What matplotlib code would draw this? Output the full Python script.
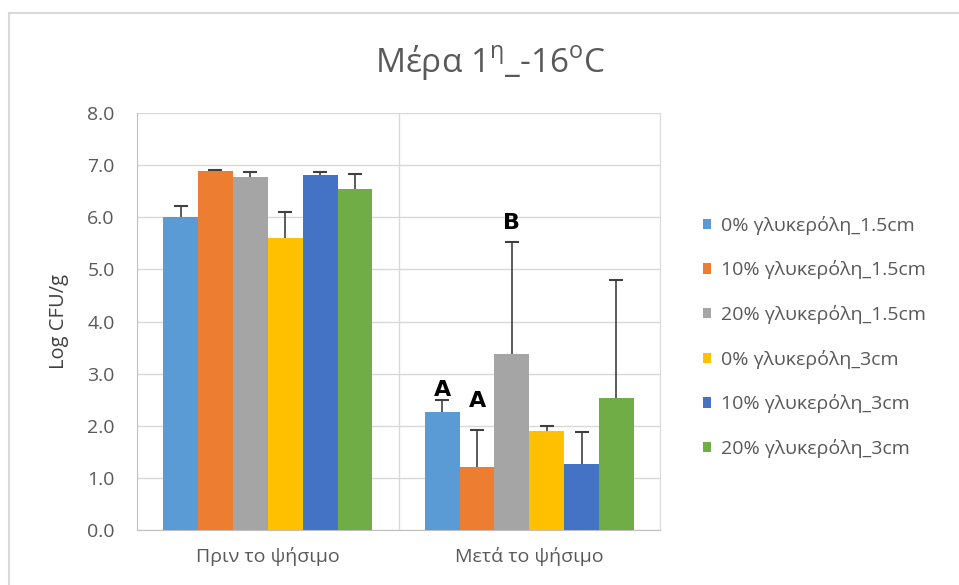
import numpy as np
import matplotlib.pyplot as plt
from matplotlib.lines import Line2D

plt.rcParams['font.family'] = ['Open Sans', 'DejaVu Sans']
plt.rcParams['mathtext.fontset'] = 'custom'
plt.rcParams['mathtext.rm'] = 'Open Sans'

groups = ['Πριν το ψήσιμο', 'Μετά το ψήσιμο']
series = ['0% γλυκερόλη_1.5cm', '10% γλυκερόλη_1.5cm', '20% γλυκερόλη_1.5cm',
          '0% γλυκερόλη_3cm', '10% γλυκερόλη_3cm', '20% γλυκερόλη_3cm']
colors = ['#5B9BD5', '#ED7D31', '#A5A5A5', '#FFC000', '#4472C4', '#70AD47']

before = [6.01, 6.88, 6.77, 5.61, 6.81, 6.55]
after = [2.27, 1.20, 3.38, 1.89, 1.27, 2.54]
err_before = [0.21, 0.02, 0.10, 0.49, 0.06, 0.28]
err_after = [0.22, 0.72, 2.14, 0.10, 0.61, 2.25]
# significance letters on the "after" group: series index -> (letter, y)
letters = {0: ('A', 2.58), 1: ('A', 2.36), 2: ('B', 5.78)}

fig = plt.figure(figsize=(9.59, 5.85), dpi=100)
# outer chart border (only top/left visible in the screenshot)
fig.add_artist(Line2D([9 / 959, 9 / 959], [0, 1 - 13 / 585], color='#D9D9D9', lw=1.5))
fig.add_artist(Line2D([9 / 959, 1], [1 - 13 / 585, 1 - 13 / 585], color='#D9D9D9', lw=1.5))

ax = fig.add_axes([0.1429, 0.094, 0.5454, 0.7128])

x = np.arange(len(groups))
w = 0.8 / 6
for i in range(6):
    vals = np.array([before[i], after[i]])
    errs = np.array([err_before[i], err_after[i]])
    pos = x - 0.4 + w * (i + 0.5)
    ax.bar(pos, vals, width=w, color=colors[i], label=series[i], zorder=3)
    ax.vlines(pos, vals, vals + errs, color='#404040', lw=1.2, zorder=4)
    ax.plot(pos, vals + errs, ls='none', marker='_', ms=10, mew=1.5,
            color='#404040', zorder=4)
    if i in letters:
        ax.text(pos[1], letters[i][1], letters[i][0], ha='center', va='baseline',
                fontsize=16, fontweight='bold', color='black', family='DejaVu Sans')

ax.set_xlim(-0.5, 1.5)
ax.set_ylim(0, 8)
ax.set_yticks(np.arange(0, 8.1, 1))
ax.set_yticklabels(['%.1f' % v for v in np.arange(0, 8.1, 1)])
ax.set_xticks(x)
ax.set_xticklabels(groups)
ax.tick_params(axis='both', length=0, labelsize=14, colors='#595959')
ax.tick_params(axis='y', pad=16)
ax.tick_params(axis='x', pad=12)
ax.grid(axis='y', color='#D9D9D9', linewidth=1, zorder=0)
ax.axvline(0.5, color='#D9D9D9', linewidth=1, zorder=0)
ax.spines['top'].set_visible(False)
ax.spines['right'].set_color('#D9D9D9')
ax.spines['left'].set_color('#BFBFBF')
ax.spines['bottom'].set_color('#BFBFBF')
ax.set_ylabel('Log CFU/g', fontsize=14.5, color='#404040')
ax.yaxis.set_label_coords(-0.13, 0.5)

fig.text(0.511, 0.893, 'Μέρα 1$^{\\mathrm{η}}$_-16$^{\\mathrm{o}}$C', ha='center',
         va='center', fontsize=24, color='#595959')

ax.legend(loc='center left', bbox_to_anchor=(1.082, 0.463), frameon=False,
          fontsize=14, labelcolor='#595959', handlelength=0.42, handleheight=0.42,
          labelspacing=1.32, handletextpad=0.5, borderpad=0, borderaxespad=0)

fig.savefig('out.png', dpi=100)
